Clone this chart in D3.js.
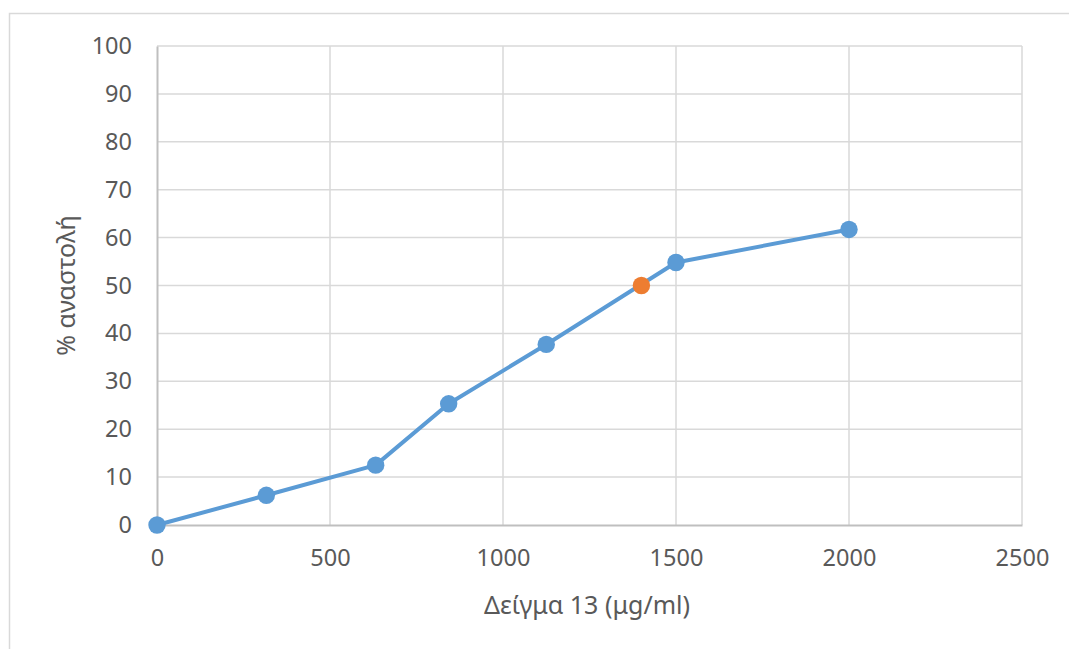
<!DOCTYPE html>
<html>
<head>
<meta charset="utf-8">
<script src="https://cdn.jsdelivr.net/npm/d3@7"></script>
<style>
  html, body { margin: 0; padding: 0; background: #fff; }
  svg { display: block; }
  text { font-family: "Noto Sans", "Open Sans", sans-serif; fill: #595959; }
</style>
</head>
<body>
<svg id="chart" width="1069" height="649"></svg>
<script>
// Inhibition curve for sample 13
const concentrations = [0, 316, 632, 843, 1125, 1500, 2000];
const inhibition = [0, 6.2, 12.5, 25.3, 37.7, 54.8, 61.7];
// IC50 point
const ic50Concentration = [1400];
const ic50Inhibition = [50];

const xTicks = [0, 500, 1000, 1500, 2000, 2500];
const yTicks = [0, 10, 20, 30, 40, 50, 60, 70, 80, 90, 100];
const xTitle = "Δείγμα 13 (μg/ml)";
const yTitle = "% αναστολή";

const svg = d3.select("#chart");
const W = 1069, H = 649;
const plot = { left: 157, top: 46, right: 1022, bottom: 525 };

// outer chart frame
svg.append("rect")
  .attr("x", 9.5).attr("y", 13.5)
  .attr("width", W + 10).attr("height", H + 10)
  .attr("fill", "#fff").attr("stroke", "#d9d9d9").attr("stroke-width", 1.5);

const x = d3.scaleLinear().domain([0, 2500]).range([plot.left, plot.right]);
const y = d3.scaleLinear().domain([0, 100]).range([plot.bottom, plot.top]);

// gridlines
const grid = svg.append("g");
grid.selectAll("line.h").data(yTicks.filter(d => d > 0)).join("line")
  .attr("x1", plot.left).attr("x2", plot.right)
  .attr("y1", d => y(d)).attr("y2", d => y(d))
  .attr("stroke", "#d9d9d9").attr("stroke-width", 1.5);
grid.selectAll("line.v").data(xTicks.filter(d => d > 0)).join("line")
  .attr("y1", plot.top).attr("y2", plot.bottom)
  .attr("x1", d => x(d)).attr("x2", d => x(d))
  .attr("stroke", "#d9d9d9").attr("stroke-width", 1.5);

// axes
const xAxis = svg.append("g").attr("transform", `translate(0,${plot.bottom})`)
  .call(d3.axisBottom(x).tickValues(xTicks).tickSize(0).tickPadding(24).tickFormat(d3.format("d")));
const yAxis = svg.append("g").attr("transform", `translate(${plot.left},0)`)
  .call(d3.axisLeft(y).tickValues(yTicks).tickSize(0).tickPadding(25).tickFormat(d3.format("d")));
[xAxis, yAxis].forEach(a => {
  a.select(".domain").attr("stroke", "#bfbfbf").attr("stroke-width", 2);
  a.selectAll("text").style("font-size", "23.5px").attr("fill", "#595959");
});

// axis titles
svg.append("text")
  .attr("x", 587).attr("y", 614)
  .attr("text-anchor", "middle").style("font-size", "25px")
  .text(xTitle);
svg.append("text")
  .attr("transform", `translate(75,${(plot.top + plot.bottom) / 2}) rotate(-90)`)
  .attr("text-anchor", "middle").style("font-size", "25px")
  .text(yTitle);

// series line and markers
const pts = concentrations.map((c, i) => [c, inhibition[i]]);
svg.append("path")
  .datum(pts)
  .attr("d", d3.line().x(d => x(d[0])).y(d => y(d[1])))
  .attr("fill", "none").attr("stroke", "#5b9bd5").attr("stroke-width", 4)
  .attr("stroke-linejoin", "round");
svg.append("g").selectAll("circle").data(pts).join("circle")
  .attr("cx", d => x(d[0])).attr("cy", d => y(d[1])).attr("r", 8.7)
  .attr("fill", "#5b9bd5");

svg.append("g").selectAll("circle").data(ic50Concentration.map((c, i) => [c, ic50Inhibition[i]])).join("circle")
  .attr("cx", d => x(d[0])).attr("cy", d => y(d[1])).attr("r", 8.7)
  .attr("fill", "#ed7d31");
</script>
</body>
</html>
